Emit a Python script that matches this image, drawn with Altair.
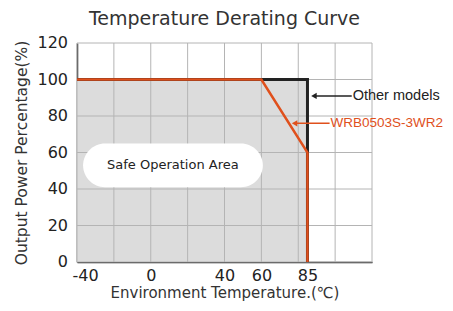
import altair as alt
import pandas as pd

# data
other_x = [-40, 85, 85]
other_y = [100, 100, 0]
wrb_x = [-40, 60, 85, 85]
wrb_y = [100, 100, 60, 0]
x_grid = [-40, -20, 0, 20, 40, 60, 80, 100, 120]
y_grid = [0, 20, 40, 60, 80, 100, 120]
x_labels = [-40, 0, 40, 60, 85]
y_labels = [0, 20, 40, 60, 80, 100, 120]

ORANGE = "#e0501c"
BLACK = "#222222"
FONT = "DejaVu Sans"
ANN_FONT = "Liberation Sans"

xs = alt.Scale(domain=[-40, 120], nice=False, zero=False)
ys = alt.Scale(domain=[0, 120], nice=False, zero=False)

other_df = pd.DataFrame({"x": other_x, "y": other_y, "o": range(len(other_x))})
wrb_df = pd.DataFrame({"x": wrb_x, "y": wrb_y, "o": range(len(wrb_x))})
area_df = pd.DataFrame({"x": other_x[:2], "y": other_y[:2]})

def X(f):
    return alt.X(f, scale=xs)

def Y(f):
    return alt.Y(f, scale=ys)

area = alt.Chart(area_df).mark_area(color="#dcdcdc", opacity=1).encode(
    x=alt.X("x:Q", scale=xs,
            axis=alt.Axis(values=x_labels, title="Environment  Temperature.(℃)",
                          labelExpr="'' + datum.value", labelOverlap=False,
                          labelFlushOffset=5,
                          titleFontSize=15, titlePadding=2)),
    y=alt.Y("y:Q", scale=ys,
            axis=alt.Axis(values=y_labels, title="Output Power  Percentage(%)",
                          labels=False, titleFontSize=15.5, titlePadding=48)),
    y2=alt.datum(0),
)

vgrid = alt.Chart(pd.DataFrame({"x": x_grid})).mark_rule(color="#b4b4b4", strokeWidth=1).encode(
    x=X("x:Q")
)
hgrid = alt.Chart(pd.DataFrame({"y": y_grid})).mark_rule(color="#b4b4b4", strokeWidth=1).encode(
    y=Y("y:Q")
)

ylab = alt.Chart(pd.DataFrame({"v": y_labels})).mark_text(
    align="right", baseline="middle", fontSize=16, font=FONT, color=BLACK, dx=-9
).encode(x=alt.value(0), y=Y("v:Q"), text=alt.Text("v:Q", format="d"))

black_line = alt.Chart(other_df).mark_line(color=BLACK, strokeWidth=3).encode(
    x=X("x:Q"), y=Y("y:Q"), order="o:Q"
)
orange_line = alt.Chart(wrb_df).mark_line(color=ORANGE, strokeWidth=2.5).encode(
    x=X("x:Q"), y=Y("y:Q"), order="o:Q"
)

# annotations
ann_other = {"x1": 88.5, "x2": 109, "y": 91, "tx": 109.5, "label": "Other models"}
ann_wrb = {"x1": 78, "x2": 97, "y": 76, "tx": 97.5, "label": "WRB0503S-3WR2"}
box = {"x1": -36.7, "x2": 60.8, "y1": 41, "y2": 65, "tx": 12, "ty": 53, "label": "Safe Operation Area"}

def arrow(a, color, size):
    df = pd.DataFrame([a])
    r = alt.Chart(df).mark_rule(color=color, strokeWidth=1.5).encode(
        x=X("x1:Q"), x2="x2:Q", y=Y("y:Q"))
    h = alt.Chart(df).mark_point(shape="triangle-left", filled=True, color=color, size=40, opacity=1).encode(
        x=X("x1:Q"), y=Y("y:Q"))
    t = alt.Chart(df).mark_text(color=color, fontSize=size, align="left", baseline="middle", font=ANN_FONT).encode(
        x=X("tx:Q"), y=Y("y:Q"), text="label:N")
    return r + h + t

box_df = pd.DataFrame([box])
box_rect = alt.Chart(box_df).mark_rect(color="white", cornerRadius=22).encode(
    x=X("x1:Q"), x2="x2:Q", y=Y("y1:Q"), y2="y2:Q")
box_text = alt.Chart(box_df).mark_text(color=BLACK, fontSize=13, font=FONT).encode(
    x=X("tx:Q"), y=Y("ty:Q"), text="label:N")

chart = alt.layer(
    area, vgrid, hgrid, black_line, orange_line, ylab,
    arrow(ann_other, BLACK, 14.5), arrow(ann_wrb, ORANGE, 13.5),
    box_rect, box_text,
).properties(
    width=295, height=219,
    title=alt.TitleParams("Temperature Derating Curve", fontSize=19, fontWeight="normal",
                          color="#333333", font=FONT, anchor="middle", offset=6),
    autosize=alt.AutoSizeParams(type="none"),
    padding={"left": 69, "top": 35, "right": 73, "bottom": 41},
).configure_view(stroke=None).configure_axis(
    grid=False, ticks=False, domainColor=BLACK, domainWidth=1.5,
    labelOverlap=False, labelFontSize=16, labelColor=BLACK, labelPadding=5,
    labelFont=FONT, titleFont=FONT, titleFontWeight="normal", titleColor="#333333",
)

chart.save("out.html", embed_options={"renderer": "svg", "actions": False})
